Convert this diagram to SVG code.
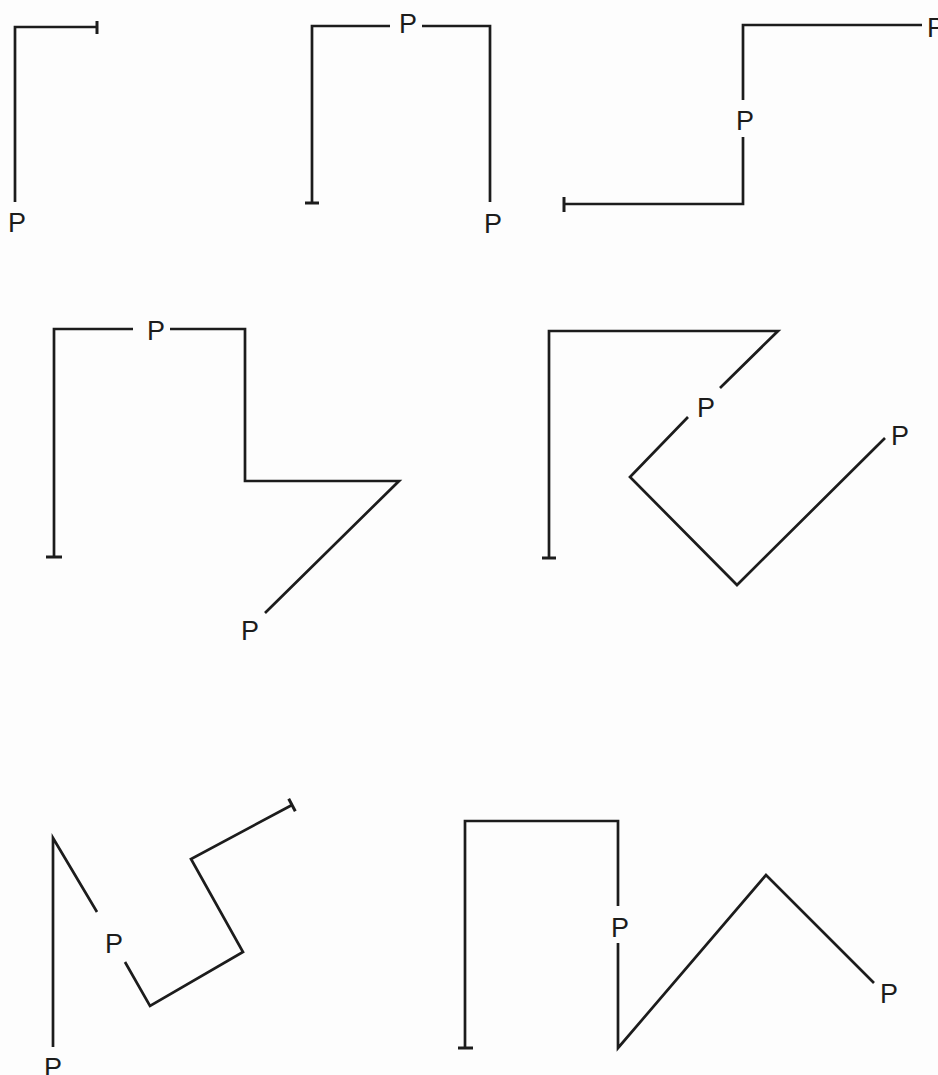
<svg xmlns="http://www.w3.org/2000/svg" width="938" height="1075" viewBox="0 0 938 1075">
<style>
.w{fill:none;stroke:#1c1c1c;stroke-width:2.7;stroke-linejoin:miter;stroke-linecap:butt}
.t{fill:none;stroke:#1c1c1c;stroke-width:3}
.p{font-family:"Liberation Sans",Arial,sans-serif;font-size:27px;fill:#1c1c1c;text-anchor:middle}
</style>
<rect width="938" height="1075" fill="#fdfdfd"/>
<g id="connectors">
<!-- fig 1 -->
<polyline class="w" points="15,202 15,27 97,27"/>
<line class="t" x1="97" y1="21" x2="97" y2="34"/>
<!-- fig 2 -->
<polyline class="w" points="312,203 312,26 390,26"/>
<polyline class="w" points="422,26 490,26 490,202"/>
<line class="t" x1="305" y1="203" x2="319" y2="203"/>
<!-- fig 3 -->
<polyline class="w" points="922,25 743,25 743,100"/>
<polyline class="w" points="743,137 743,204 564,204"/>
<line class="t" x1="564" y1="197" x2="564" y2="212"/>
<!-- fig 4 -->
<polyline class="w" points="54,557 54,329 133,329"/>
<polyline class="w" points="170,329 245,329 245,481 399,481 265,613"/>
<line class="t" x1="46" y1="557" x2="62" y2="557"/>
<!-- fig 5 -->
<polyline class="w" points="549,558 549,331 778,331 720,388"/>
<polyline class="w" points="688,417 630,477 737,585 885,438"/>
<line class="t" x1="542" y1="558" x2="556" y2="558"/>
<!-- fig 6 -->
<polyline class="w" points="53,1047 53,838 97,912"/>
<polyline class="w" points="125,962 150,1006 243,952 191,859 292,805"/>
<line class="t" x1="288.7" y1="798.8" x2="295.3" y2="811.2"/>
<!-- fig 7 -->
<polyline class="w" points="465,1048 465,821 618,821 618,906"/>
<polyline class="w" points="618,943 618,1048 766,875 874,983"/>
<line class="t" x1="458" y1="1048" x2="473" y2="1048"/>
</g>
<g id="fig1"><text class="p" x="17" y="232">P</text></g>
<g id="fig2"><text class="p" x="408" y="33">P</text><text class="p" x="493" y="233">P</text></g>
<g id="fig3"><text class="p" x="745" y="130">P</text><text class="p" x="936" y="37">P</text></g>
<g id="fig4"><text class="p" x="156" y="340">P</text><text class="p" x="250" y="640">P</text></g>
<g id="fig5"><text class="p" x="706" y="417">P</text><text class="p" x="900" y="445">P</text></g>
<g id="fig6"><text class="p" x="114" y="953">P</text><text class="p" x="53" y="1077">P</text></g>
<g id="fig7"><text class="p" x="620" y="937">P</text><text class="p" x="889" y="1003">P</text></g>
</svg>
